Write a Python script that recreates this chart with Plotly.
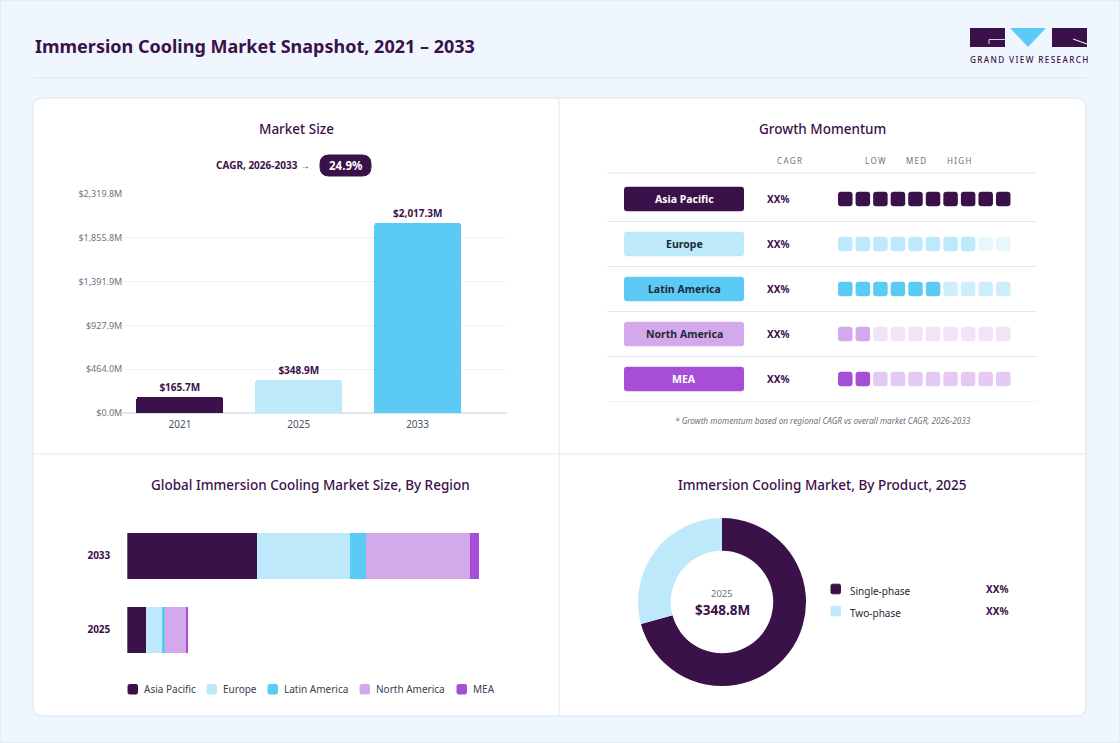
import plotly.graph_objects as go

W, H = 1120, 743
FONT = "Noto Sans"
DARK = "#3B1149"
GRAY = "#6B7280"
INK = "#1F2937"
LINE = "#E3E8EF"
PAGE = "#EFF6FD"

# ---- data ----
years = ["2021", "2025", "2033"]
market_size = [165.7, 348.9, 2017.3]
year_colors = ["#3B1149", "#BDE9FA", "#5BCBF5"]
y_max = 2319.8
cagr_label = "CAGR, 2026-2033 \u2192"
cagr_value = "24.9%"

regions = ["Asia Pacific", "Europe", "Latin America", "North America", "MEA"]
region_colors = ["#3B1149", "#BDE9FA", "#5BCBF5", "#D4A9EC", "#A64FD6"]
region_faint = ["#E2DAE8", "#E8F6FD", "#CDEFFB", "#F1E4F9", "#E4C9F3"]
region_text = ["#FFFFFF", INK, INK, INK, "#FFFFFF"]
region_cagr = ["XX%", "XX%", "XX%", "XX%", "XX%"]
momentum = [10, 8, 6, 2, 2]
n_cells = 10
momentum_heads = ["LOW", "MED", "HIGH"]

split_years = ["2025", "2033"]
region_2025 = [110.0, 90.5, 15.3, 122.5, 10.5]
region_2033 = [746.5, 528.3, 93.3, 593.6, 55.5]

products = ["Single-phase", "Two-phase"]
product_share = [70.8, 29.2]
product_colors = ["#3B1149", "#BDE9FA"]
product_labels = ["XX%", "XX%"]
product_year = "2025"
product_total = 348.8


def X(x):
    return x / W


def Y(y):
    return 1 - y / H


def rounded(x0, x1, y0, y1, rx, ry):
    return (f"M {x0 + rx},{y0} L {x1 - rx},{y0} Q {x1},{y0} {x1},{y0 + ry} "
            f"L {x1},{y1 - ry} Q {x1},{y1} {x1 - rx},{y1} L {x0 + rx},{y1} Q {x0},{y1} {x0},{y1 - ry} "
            f"L {x0},{y0 + ry} Q {x0},{y0} {x0 + rx},{y0} Z")


def rrect(x0, y0, x1, y1, r, fill, line=None, layer="below"):
    p = rounded(X(x0), X(x1), Y(y0), Y(y1), r / W, -r / H)
    return dict(type="path", path=p, xref="paper", yref="paper", fillcolor=fill,
                line=dict(color=line or fill, width=1), layer=layer)


def hline(x0, x1, y, color=LINE):
    return dict(type="line", xref="paper", yref="paper", x0=X(x0), x1=X(x1), y0=Y(y), y1=Y(y),
                line=dict(color=color, width=1), layer="below")


def ann(x, y, text, size, color=DARK, weight="normal", xanchor="center", **kw):
    d = dict(x=X(x), y=Y(y), xref="paper", yref="paper", text=text, showarrow=False,
             xanchor=xanchor, yanchor="middle",
             font=dict(family=FONT, size=size, color=color, weight=weight))
    d.update(kw)
    return d


def spaced(s):
    return "\u2009".join(s)


fig = go.Figure()
shapes = []
annotations = []

# ---- page frame ----
shapes.append(dict(type="rect", xref="paper", yref="paper", x0=0, x1=1, y0=0, y1=1,
                   line=dict(color="#DCE4EE", width=1), fillcolor=PAGE, layer="below"))
shapes.append(hline(33, 1086, 78, "#DCE4EE"))
shapes.append(rrect(33, 98, 1086, 716, 10, "#FFFFFF", "#DCE4EE"))
shapes.append(dict(type="line", xref="paper", yref="paper", x0=X(559), x1=X(559), y0=Y(98), y1=Y(716),
                   line=dict(color=LINE, width=1), layer="below"))
shapes.append(hline(33, 1086, 454))

annotations.append(ann(33, 46, "Immersion Cooling Market Snapshot, 2021 \u2013 2033", 18,
                       weight="bold", xanchor="left"))

# logo
shapes.append(dict(type="rect", xref="paper", yref="paper", x0=X(970), x1=X(1005), y0=Y(47), y1=Y(28),
                   fillcolor=DARK, line=dict(width=0)))
shapes.append(dict(type="path", xref="paper", yref="paper",
                   path=f"M {X(989)},{Y(44)} L {X(989)},{Y(39.5)} L {X(1005)},{Y(39.5)}",
                   line=dict(color="#D8CFE0", width=1)))
shapes.append(dict(type="path", xref="paper", yref="paper",
                   path=f"M {X(1010)},{Y(28)} L {X(1046)},{Y(28)} L {X(1028)},{Y(47)} Z",
                   fillcolor="#5BCBF5", line=dict(width=0)))
shapes.append(dict(type="rect", xref="paper", yref="paper", x0=X(1052), x1=X(1087), y0=Y(47), y1=Y(28),
                   fillcolor=DARK, line=dict(width=0)))
shapes.append(dict(type="path", xref="paper", yref="paper",
                   path=f"M {X(1073)},{Y(39)} L {X(1087)},{Y(44)}",
                   line=dict(color="#FFFFFF", width=1)))
annotations.append(ann(1028.5, 59, spaced("GRAND VIEW RESEARCH"), 8.2, color=DARK, weight=500))

# ---- panel 1: market size ----
annotations.append(ann(296, 129, "Market Size", 13.5, weight=500))
annotations.append(ann(312, 165, cagr_label, 10, weight="bold", xanchor="right"))
shapes.append(rrect(320, 155, 371, 176, 9, DARK, layer="above"))
annotations.append(ann(345.5, 165.5, cagr_value, 11.5, color="#FFFFFF", weight="bold"))

fig.add_trace(go.Bar(
    x=years, y=market_size, width=0.73, xaxis="x", yaxis="y",
    marker=dict(color=year_colors, cornerradius=3, line=dict(width=0)),
    texttemplate="$%{y:,.1f}M", textposition="outside", cliponaxis=False,
    textfont=dict(family=FONT, size=10, color=DARK, weight="bold"),
    showlegend=False, hoverinfo="skip"))

ticks = [y_max * k / 5 for k in range(6)]

# ---- panel 2: growth momentum ----
annotations.append(ann(822.5, 129, "Growth Momentum", 13.5, weight=500))
annotations.append(ann(789, 160, spaced("CAGR"), 8, color=GRAY))
for head, hx in zip(momentum_heads, [875, 916, 959]):
    annotations.append(ann(hx, 160, spaced(head), 8, color=GRAY))
shapes.append(hline(607, 1036, 173))
rows = list(range(len(regions)))
pill_h = 24.5 / 45
cell_w = 14.5 / 17.55
cell_h = 14.5 / 45
for k in rows:
    shapes.append(dict(type="line", xref="paper", yref="y2", x0=X(607), x1=X(1036),
                       y0=k + 0.5, y1=k + 0.5, line=dict(color=LINE, width=1), layer="below"))
    annotations.append(dict(x=X(791), y=k, xref="paper", yref="y2", text=region_cagr[k],
                            showarrow=False, font=dict(family=FONT, size=10, color=DARK, weight="bold")))
    # label pill on its own axis (x2: 0..1 spans the pill column)
    shapes.append(dict(type="path", xref="x2", yref="y2", layer="below",
                       path=rounded(0, 1, k - pill_h / 2, k + pill_h / 2, 3 / 120, 3 / 45),
                       fillcolor=region_colors[k], line=dict(width=0)))
    annotations.append(dict(x=0.5, y=k, xref="x2", yref="y2", text=regions[k], showarrow=False,
                            yanchor="middle",
                            font=dict(family=FONT, size=10.5, color=region_text[k], weight="bold")))
    # momentum cells on x3: one unit per cell
    for j in range(n_cells):
        c = region_colors[k] if j < momentum[k] else region_faint[k]
        shapes.append(dict(type="path", xref="x3", yref="y3", layer="below",
                           path=rounded(j - cell_w / 2, j + cell_w / 2, k - cell_h / 2, k + cell_h / 2,
                                        3 / 17.55, 3 / 45),
                           fillcolor=c, line=dict(width=0)))

fig.add_trace(go.Scatter(
    x=[0.5] * len(regions), y=rows, mode="markers", xaxis="x2", yaxis="y2",
    marker=dict(size=1, opacity=0), customdata=region_cagr, text=regions,
    hovertemplate="%{text}: %{customdata}<extra></extra>", showlegend=False))
fig.add_trace(go.Scatter(
    x=[m - 1 for m in momentum], y=rows, mode="markers", xaxis="x3", yaxis="y3",
    marker=dict(size=1, opacity=0), customdata=regions,
    hovertemplate="%{customdata}: %{x}<extra></extra>", showlegend=False))

annotations.append(ann(822.5, 420, "<i>* Growth momentum based on regional CAGR vs overall market CAGR, 2026-2033</i>",
                       8.2, color=GRAY))

# ---- panel 3: by region ----
annotations.append(ann(310, 485, "Global Immersion Cooling Market Size, By Region", 13.5, weight=500))
base25, base33 = 0.0, 0.0
for i, r in enumerate(regions):
    fig.add_trace(go.Bar(
        x=[region_2025[i], region_2033[i]], y=split_years, base=[base25, base33],
        orientation="h", width=0.61, xaxis="x4", yaxis="y4",
        marker=dict(color=region_colors[i], line=dict(width=0)),
        name=r, showlegend=False, hoverinfo="skip"))
    base25 += region_2025[i]
    base33 += region_2033[i]
for yr, tot in zip(split_years, [base25, base33]):
    annotations.append(dict(x=tot, y=yr, xref="x4", yref="y4", text=f"${tot:,.1f}M",
                            showarrow=False, xanchor="left", xshift=8,
                            font=dict(family=FONT, size=10, color=DARK, weight="bold")))

legend_x = [128, 207, 268, 360, 457]
for lx, r, c in zip(legend_x, regions, region_colors):
    shapes.append(rrect(lx, 684.5, lx + 9.5, 694, 1.5, c, layer="above"))
    annotations.append(ann(lx + 14, 689, r, 10, color="#374151", xanchor="left"))

# ---- panel 4: by product ----
annotations.append(ann(822.5, 485, "Immersion Cooling Market, By Product, 2025", 13.5, weight=500))
fig.add_trace(go.Pie(
    labels=products, values=product_share, hole=0.61, sort=False, direction="clockwise",
    domain=dict(x=[X(638), X(806)], y=[Y(686), Y(518)]),
    marker=dict(colors=product_colors, line=dict(width=0)),
    textinfo="none", showlegend=False, hoverinfo="skip"))
annotations.append(ann(722, 593, product_year, 9.5, color=GRAY))
annotations.append(ann(722, 609.5, f"${product_total:,.1f}M", 13.5, weight="bold"))
for k, (p, c, v) in enumerate(zip(products, product_colors, product_labels)):
    yy = 589 + 22 * k
    shapes.append(rrect(831, yy - 4.8, 840.5, yy + 4.8, 1.5, c, layer="above"))
    annotations.append(ann(848, yy + 2, p, 10, color=INK, xanchor="left"))
    annotations.append(ann(997, yy, v, 10, color=DARK, weight="bold"))

fig.update_layout(
    width=W, height=H, margin=dict(l=0, r=0, t=0, b=0, autoexpand=False),
    paper_bgcolor=PAGE, plot_bgcolor="rgba(0,0,0,0)",
    barmode="overlay", bargap=0, showlegend=False,
    font=dict(family=FONT, color=DARK),
    xaxis=dict(domain=[X(123.3), X(506.7)], type="category", range=[-0.477, 2.75],
               showgrid=False, zeroline=False, showline=False, ticks="", automargin=False,
               ticklabelstandoff=4,
               tickfont=dict(family=FONT, size=10, color="#4B5563"), fixedrange=True),
    yaxis=dict(domain=[Y(413), Y(194)], range=[0, y_max], tickvals=ticks, automargin=False,
               ticktext=[f"${v:,.1f}M" for v in ticks], showgrid=True, gridcolor="#EEF1F6",
               zeroline=True, zerolinecolor="#E1E5EC", showline=False, ticks="",
               tickfont=dict(family=FONT, size=9, color=GRAY), fixedrange=True),
    xaxis2=dict(domain=[X(624), X(744)], range=[0, 1], visible=False, fixedrange=True),
    yaxis2=dict(domain=[Y(401.5), Y(176.5)], range=[len(regions) - 0.5, -0.5], visible=False,
                fixedrange=True),
    xaxis3=dict(domain=[X(836.5), X(1012)], range=[-0.5, n_cells - 0.5], visible=False, fixedrange=True),
    yaxis3=dict(domain=[Y(401.5), Y(176.5)], range=[len(regions) - 0.5, -0.5], visible=False,
                fixedrange=True),
    xaxis4=dict(domain=[X(127.3), X(507)], range=[0, 2173.5], visible=False, fixedrange=True),
    yaxis4=dict(domain=[Y(666.5), Y(518.5)], type="category", range=[-0.5, 1.5], automargin=False,
                showgrid=False, zeroline=False, showline=False, ticks="", ticklabelstandoff=12,
                tickfont=dict(family=FONT, size=10, color=DARK, weight="bold"), fixedrange=True),
    shapes=shapes, annotations=annotations,
)

fig.write_html("out.html", config={"displayModeBar": False, "responsive": False},
               post_script="document.body.style.margin='0';document.body.style.overflow='hidden';")
